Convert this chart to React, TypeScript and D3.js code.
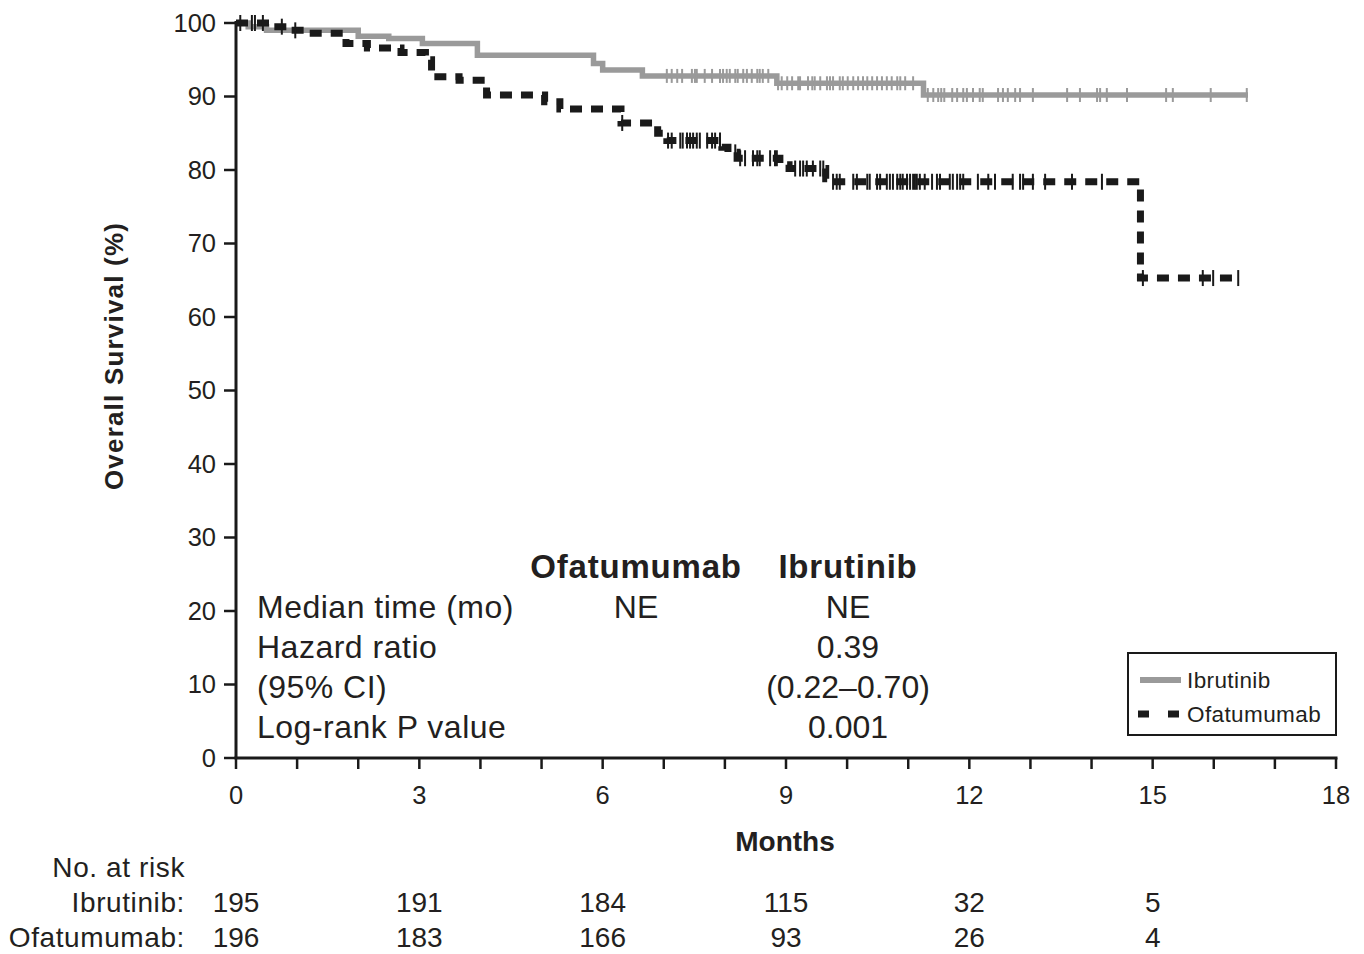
import React from "react";
import * as d3 from "d3";

// ---- Data ----
const xTicks = [0, 3, 6, 9, 12, 15, 18];
const yTicks = [0, 10, 20, 30, 40, 50, 60, 70, 80, 90, 100];

// Kaplan-Meier steps: [month, survival %]
const ibrutinibSteps: [number, number][] = [
  [0, 100], [0.2, 99.5], [0.5, 99.0], [2.0, 98.2], [2.5, 97.9], [3.05, 97.2],
  [3.95, 95.6], [5.85, 94.5], [6.0, 93.6], [6.65, 92.8], [8.85, 91.8], [11.25, 90.2],
];
const ibrutinibEnd = 16.56;

const ofatumumabSteps: [number, number][] = [
  [0, 100], [0.6, 99.5], [0.9, 99.0], [1.15, 98.6], [1.8, 97.2], [2.15, 96.6],
  [2.7, 96.0], [3.1, 95.0], [3.2, 92.7], [3.65, 92.2], [4.1, 90.2], [5.05, 89.3],
  [5.3, 88.3], [6.3, 86.4], [6.9, 85.0], [7.05, 84.0], [7.95, 83.1], [8.05, 82.4],
  [8.2, 81.6], [8.9, 80.7], [9.05, 80.2], [9.65, 78.8], [9.72, 78.4], [14.8, 65.3],
];
const ofatumumabEnd = 16.42;

const ibrutinibCensors = [
  7.05, 7.13, 7.22, 7.30, 7.46, 7.51, 7.54, 7.67, 7.79, 7.92, 7.97, 8.03, 8.08, 8.17,
  8.21, 8.30, 8.36, 8.44, 8.53, 8.57, 8.62, 8.71, 8.87, 8.93, 9.02, 9.10, 9.20, 9.23,
  9.36, 9.43, 9.47, 9.56, 9.67, 9.72, 9.77, 9.88, 9.93, 10.01, 10.10, 10.18, 10.26,
  10.33, 10.41, 10.49, 10.57, 10.65, 10.73, 10.82, 10.87, 10.95, 11.08, 11.32, 11.41,
  11.49, 11.54, 11.59, 11.72, 11.80, 11.90, 11.96, 12.06, 12.17, 12.22, 12.47, 12.55,
  12.63, 12.75, 12.83, 13.04, 13.60, 13.81, 14.09, 14.14, 14.25, 14.58, 15.22, 15.33,
  15.95, 16.54,
];

const ofatumumabCensors = [
  0.07, 0.26, 0.31, 0.44, 0.75, 0.97, 6.32, 7.07, 7.13, 7.27, 7.31, 7.38, 7.43, 7.48,
  7.54, 7.59, 7.71, 7.79, 7.84, 7.92, 8.17, 8.25, 8.33, 8.46, 8.53, 8.57, 8.74, 8.82,
  8.85, 9.15, 9.23, 9.28, 9.34, 9.44, 9.56, 9.61, 9.77, 9.83, 9.88, 10.10, 10.16,
  10.33, 10.37, 10.49, 10.54, 10.65, 10.70, 10.75, 10.82, 10.87, 10.91, 10.98, 11.03,
  11.08, 11.11, 11.14, 11.19, 11.27, 11.39, 11.47, 11.52, 11.68, 11.73, 11.80, 11.85,
  11.90, 12.14, 12.31, 12.42, 12.71, 12.83, 12.88, 13.04, 13.24, 13.68, 14.17, 14.84,
  15.82, 15.99, 16.40,
];

const riskTimes = [0, 3, 6, 9, 12, 15];
const riskIbrutinib = [195, 191, 184, 115, 32, 5];
const riskOfatumumab = [196, 183, 166, 93, 26, 4];

const statRows = ["Median time (mo)", "Hazard ratio", "(95% CI)", "Log-rank P value"];
const statOfatumumab = ["NE", "", "", ""];
const statIbrutinib = ["NE", "0.39", "(0.22–0.70)", "0.001"];

// ---- Layout ----
const FONT = "'Liberation Sans', Arial, Helvetica, sans-serif";
const TEXT = "#231f20";
const GRAY = "#9a9a9a";
const BLACK = "#1a1a1a";

const x = d3.scaleLinear().domain([0, 18]).range([236, 1336]);
const y = d3.scaleLinear().domain([0, 100]).range([758, 23]);

function survAt(steps: [number, number][], t: number) {
  let v = steps[0][1];
  for (const [m, s] of steps) if (m <= t + 1e-9) v = s;
  return v;
}

const lineGen = d3
  .line<[number, number]>()
  .x((d) => x(d[0]))
  .y((d) => y(d[1]))
  .curve(d3.curveStepAfter);

export default function App() {
  const ibPts: [number, number][] = [
    ...ibrutinibSteps,
    [ibrutinibEnd, ibrutinibSteps[ibrutinibSteps.length - 1][1]],
  ];
  const ofPts: [number, number][] = [
    ...ofatumumabSteps,
    [ofatumumabEnd, ofatumumabSteps[ofatumumabSteps.length - 1][1]],
  ];
  const minor = d3.range(0, 19);
  const statX1 = 636;
  const statX2 = 848;

  return (
    <svg
      width={1364}
      height={954}
      style={{ position: "absolute", left: 0, top: 0, background: "#fff" }}
      fontFamily={FONT}
    >
      {/* curves */}
      <path d={lineGen(ibPts) || ""} fill="none" stroke={GRAY} strokeWidth={5.5} />
      {ibrutinibCensors.map((t, i) => (
        <line
          key={"ic" + i}
          x1={x(t)}
          x2={x(t)}
          y1={y(survAt(ibrutinibSteps, t)) - 7}
          y2={y(survAt(ibrutinibSteps, t)) + 7}
          stroke={GRAY}
          strokeWidth={2}
        />
      ))}
      <path
        d={lineGen(ofPts) || ""}
        fill="none"
        stroke={BLACK}
        strokeWidth={7}
        strokeDasharray="12 9"
      />
      {ofatumumabCensors.map((t, i) => (
        <line
          key={"oc" + i}
          x1={x(t)}
          x2={x(t)}
          y1={y(survAt(ofatumumabSteps, t)) - 8}
          y2={y(survAt(ofatumumabSteps, t)) + 8}
          stroke={BLACK}
          strokeWidth={2}
        />
      ))}

      {/* axes */}
      <line x1={236} x2={236} y1={y(100) - 2} y2={758} stroke={BLACK} strokeWidth={3} />
      <line x1={234.5} x2={1337.5} y1={758} y2={758} stroke={BLACK} strokeWidth={3} />
      {yTicks.map((t) => (
        <g key={"yt" + t}>
          <line x1={224} x2={236} y1={y(t)} y2={y(t)} stroke={BLACK} strokeWidth={2.5} />
          <text
            x={216}
            y={y(t)}
            dy="0.35em"
            textAnchor="end"
            fontSize={25.5}
            fill={TEXT}
          >
            {t}
          </text>
        </g>
      ))}
      {minor.map((t) => (
        <line key={"xm" + t} x1={x(t)} x2={x(t)} y1={758} y2={769} stroke={BLACK} strokeWidth={2.5} />
      ))}
      {xTicks.map((t) => (
        <text key={"xt" + t} x={x(t)} y={804} textAnchor="middle" fontSize={25.5} fill={TEXT}>
          {t}
        </text>
      ))}
      <text x={785} y={851} textAnchor="middle" fontSize={28} fontWeight="bold" fill={TEXT}>
        Months
      </text>
      <text
        transform="translate(123,356) rotate(-90)"
        textAnchor="middle"
        fontSize={26}
        fontWeight="bold"
        fill={TEXT}
        letterSpacing={1.2}
      >
        Overall Survival (%)
      </text>

      {/* stats table */}
      <text x={statX1} y={578} textAnchor="middle" fontSize={33} fontWeight="bold" fill={TEXT} letterSpacing={0.8}>
        Ofatumumab
      </text>
      <text x={statX2} y={578} textAnchor="middle" fontSize={33} fontWeight="bold" fill={TEXT} letterSpacing={0.8}>
        Ibrutinib
      </text>
      {statRows.map((r, i) => (
        <g key={"sr" + i}>
          <text x={257} y={618 + i * 40} fontSize={32} fill={TEXT} letterSpacing={0.5}>
            {r}
          </text>
          <text x={statX1} y={618 + i * 40} textAnchor="middle" fontSize={32} fill={TEXT}>
            {statOfatumumab[i]}
          </text>
          <text x={statX2} y={618 + i * 40} textAnchor="middle" fontSize={32} fill={TEXT}>
            {statIbrutinib[i]}
          </text>
        </g>
      ))}

      {/* legend */}
      <rect x={1128} y={653} width={208} height={82} fill="#fff" stroke={BLACK} strokeWidth={2} />
      <line x1={1140} x2={1181} y1={680} y2={680} stroke={GRAY} strokeWidth={6} />
      <text x={1187} y={688} fontSize={22.5} fill={TEXT} letterSpacing={0.4}>
        Ibrutinib
      </text>
      <line
        x1={1138}
        x2={1181}
        y1={714}
        y2={714}
        stroke={BLACK}
        strokeWidth={7}
        strokeDasharray="11 19"
      />
      <text x={1187} y={722} fontSize={22.5} fill={TEXT} letterSpacing={0.4}>
        Ofatumumab
      </text>

      {/* risk table */}
      <text x={185} y={877} textAnchor="end" fontSize={28} fill={TEXT} letterSpacing={0.6}>
        No. at risk
      </text>
      <text x={185} y={912} textAnchor="end" fontSize={28} fill={TEXT} letterSpacing={0.6}>
        Ibrutinib:
      </text>
      <text x={185} y={947} textAnchor="end" fontSize={28} fill={TEXT} letterSpacing={0.6}>
        Ofatumumab:
      </text>
      {riskTimes.map((t, i) => (
        <g key={"rk" + i}>
          <text x={x(t)} y={912} textAnchor="middle" fontSize={28} fill={TEXT}>
            {riskIbrutinib[i]}
          </text>
          <text x={x(t)} y={947} textAnchor="middle" fontSize={28} fill={TEXT}>
            {riskOfatumumab[i]}
          </text>
        </g>
      ))}
    </svg>
  );
}
